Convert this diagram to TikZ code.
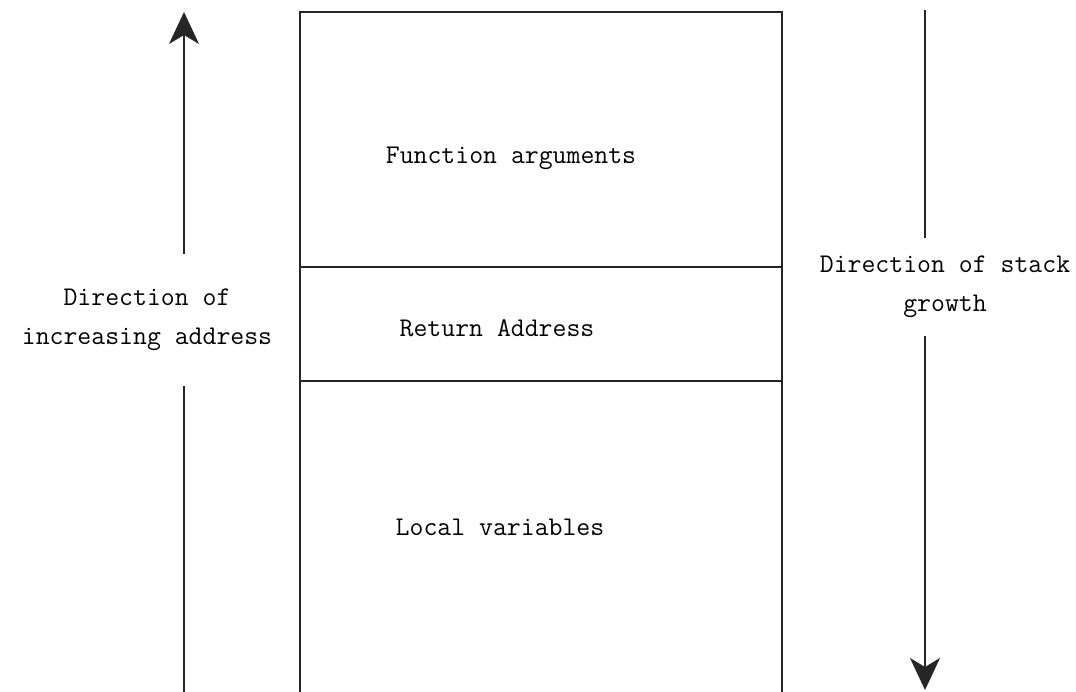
\documentclass[tikz,border=0pt]{standalone}
\usetikzlibrary{arrows.meta}
\tikzset{
  stackline/.style={line width=1.6pt, black!85},
  growarrow/.style={stackline, -{Stealth[length=32pt,width=30pt,inset=9pt]}},
  lbl/.style={font=\ttfamily\fontsize{27}{39}\selectfont, align=center, inner sep=0pt},
}
\begin{document}
\begin{tikzpicture}[x=1pt,y=-1pt]
  \useasboundingbox (0,0) rectangle (1076,692);
  % stack frame
  \draw[stackline] (300,692) -- (300,12) -- (782,12) -- (782,692);
  \draw[stackline] (300,267) -- (782,267);
  \draw[stackline] (300,381) -- (782,381);
  \node[lbl] (args) at (511,158) {Function arguments};
  \node[lbl] (ret) at (497,328) {Return Address};
  \node[lbl] (locals) at (500,527) {Local variables};
  % address direction
  \node[lbl, inner ysep=35pt] (addr) at (147,320) {Direction of\\increasing address};
  \coordinate (abot) at (184,692);
  \coordinate (atop) at (184,12);
  \draw[stackline] (abot) -- (abot |- addr.south);
  \draw[growarrow] (atop |- addr.north) -- (atop);
  % growth direction
  \node[lbl, inner ysep=18pt] (grow) at (945,287) {Direction of stack\\growth};
  \coordinate (gtop) at (925,10);
  \coordinate (gbot) at (925,690);
  \draw[stackline] (gtop) -- (gtop |- grow.north);
  \draw[growarrow] (gbot |- grow.south) -- (gbot);
\end{tikzpicture}
\end{document}
